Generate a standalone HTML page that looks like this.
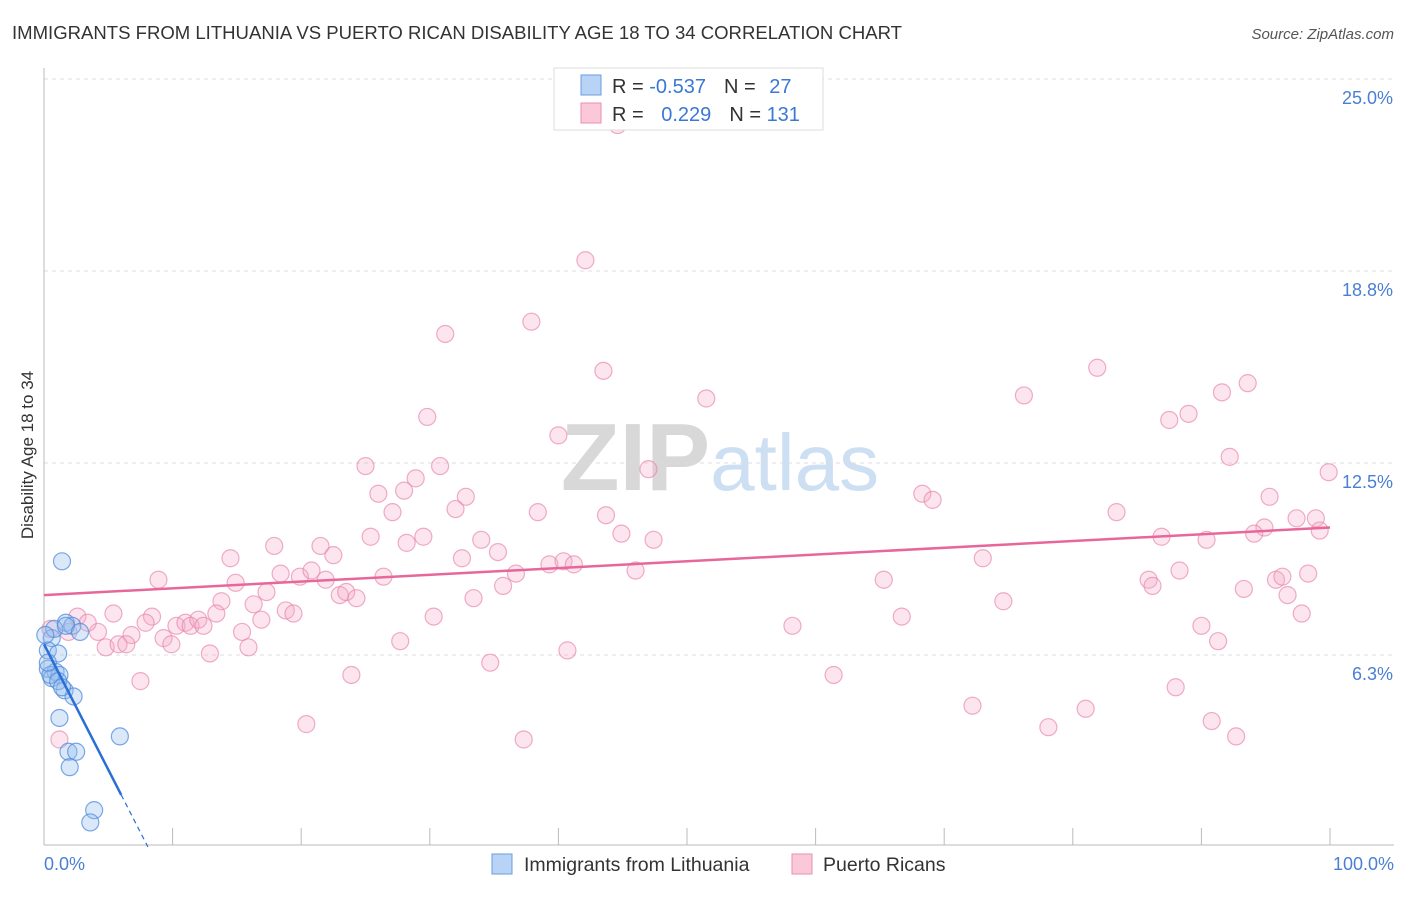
<!DOCTYPE html>
<html><head><meta charset="utf-8"><style>
body{margin:0;background:#fff;font-family:"Liberation Sans",sans-serif}
svg text{font-family:"Liberation Sans",sans-serif}
</style></head><body>
<svg id="chart" width="1406" height="892" viewBox="0 0 1406 892">
<text x="12" y="39" font-size="18.5" fill="#333" textLength="890" lengthAdjust="spacingAndGlyphs">IMMIGRANTS FROM LITHUANIA VS PUERTO RICAN DISABILITY AGE 18 TO 34 CORRELATION CHART</text>
<text x="1394" y="39" font-size="15" fill="#555" text-anchor="end" font-style="italic">Source: ZipAtlas.com</text>
<text x="720" y="490" font-size="96" text-anchor="middle" fill="#ddd" font-family="Liberation Serif"><tspan fill="#d8d8d8" font-weight="bold">ZIP</tspan><tspan fill="#cddff2" font-family="Liberation Sans" font-size="80">atlas</tspan></text>
<g id="grid"></g>
<g id="axes"></g>
<g id="pts"></g>
<g id="trends"></g>
<text transform="translate(33,455) rotate(-90)" font-size="17" fill="#333" text-anchor="middle">Disability Age 18 to 34</text>
<text x="44" y="870" font-size="18" fill="#4a7fd4">0.0%</text>
<text x="1394" y="870" font-size="18" fill="#4a7fd4" text-anchor="end">100.0%</text>
<g>
<rect x="554" y="68" width="269" height="62" fill="#fff" stroke="#ddd"/>
<rect x="581" y="75" width="20" height="20" fill="#b8d3f5" stroke="#6a9ee0"/>
<rect x="581" y="103" width="20" height="20" fill="#fbc8d8" stroke="#ea8fb0"/>
<text x="612" y="93" font-size="20" fill="#333">R = <tspan fill="#3a78d6">-0.537</tspan><tspan dx="18">N = </tspan><tspan fill="#3a78d6" dx="8">27</tspan></text>
<text x="612" y="121" font-size="20" fill="#333">R = <tspan fill="#3a78d6" dx="12">0.229</tspan><tspan dx="18">N = </tspan><tspan fill="#3a78d6">131</tspan></text>
</g>
<g>
<rect x="492" y="854" width="20" height="20" fill="#b8d3f5" stroke="#6a9ee0"/>
<text x="524" y="871" font-size="19.5" fill="#333">Immigrants from Lithuania</text>
<rect x="792" y="854" width="20" height="20" fill="#fbc8d8" stroke="#ea8fb0"/>
<text x="823" y="871" font-size="19.5" fill="#333">Puerto Ricans</text>
</g>
</svg>
<script>
const yTicks=[6.25,12.5,18.75,25];
const yTickLabels=["6.3%","12.5%","18.8%","25.0%"];
const blueX=[1.4,1.7,0.6,0.3,1.1,0.3,0.9,1.2,0.6,1.6,2.3,1.2,5.9,1.9,2.5,2.0,3.9,3.6,0.8,2.2,0.1,0.5,1.1,1.4,1.7,2.8,0.3];
const blueY=[9.3,7.3,6.8,6.4,6.3,5.8,5.7,5.6,5.5,5.1,4.9,4.2,3.6,3.1,3.1,2.6,1.2,0.8,7.1,7.2,6.9,5.6,5.4,5.2,7.2,7.0,6.0];
const pinkX=[44.6,42.1,37.9,31.2,81.9,43.5,51.5,76.2,93.6,91.6,29.8,89.0,87.5,40.0,25.0,30.8,47.0,92.2,99.9,28.9,26.0,28.0,32.8,68.3,69.1,95.3,27.1,32.0,38.4,43.7,83.4,98.9,97.4,94.9,94.1,99.2,25.4,29.5,34.0,44.9,86.9,90.4,28.2,21.5,17.9,47.4,14.5,22.5,35.3,32.5,39.3,40.4,41.2,73.0,88.3,46.0,8.9,14.9,18.4,19.9,20.8,21.9,26.4,36.7,65.3,85.9,86.2,95.8,96.3,98.3,35.7,17.3,23.0,23.5,24.3,33.4,93.3,13.8,16.3,18.8,74.6,96.7,5.4,8.4,13.4,16.9,19.4,30.3,66.7,97.8,7.9,10.3,11.0,11.4,12.0,12.4,58.2,90.0,4.2,6.8,15.4,27.7,91.3,9.3,9.9,4.8,5.8,6.4,15.9,12.9,40.7,34.7,23.9,7.5,61.4,88.0,72.2,20.4,81.0,78.1,90.8,37.3,92.7,1.2,2.6,3.4,1.9,0.5];
const pinkY=[23.5,19.1,17.1,16.7,15.6,15.5,14.6,14.7,15.1,14.8,14.0,14.1,13.9,13.4,12.4,12.4,12.3,12.7,12.2,12.0,11.5,11.6,11.4,11.5,11.3,11.4,10.9,11.0,10.9,10.8,10.9,10.7,10.7,10.4,10.2,10.3,10.1,10.1,10.0,10.2,10.1,10.0,9.9,9.8,9.8,10.0,9.4,9.5,9.6,9.4,9.2,9.3,9.2,9.4,9.0,9.0,8.7,8.6,8.9,8.8,9.0,8.7,8.8,8.9,8.7,8.7,8.5,8.7,8.8,8.9,8.5,8.3,8.2,8.3,8.1,8.1,8.4,8.0,7.9,7.7,8.0,8.2,7.6,7.5,7.6,7.4,7.6,7.5,7.5,7.6,7.3,7.2,7.3,7.2,7.4,7.2,7.2,7.2,7.0,6.9,7.0,6.7,6.7,6.8,6.6,6.5,6.6,6.6,6.5,6.3,6.4,6.0,5.6,5.4,5.6,5.2,4.6,4.0,4.5,3.9,4.1,3.5,3.6,3.5,7.5,7.3,7.0,7.1,7.4];
const blueTrend=[0,6.6,6,1.7];
const pinkTrend=[0,8.2,100,10.4];
const X0=44,X1=1330,Y0=847,YS=192/6.25;
const sx=v=>X0+(X1-X0)*v/100, sy=v=>Y0-v*YS;
const NS="http://www.w3.org/2000/svg";
function mk(tag,attrs,parent){const e=document.createElementNS(NS,tag);for(const k in attrs)e.setAttribute(k,attrs[k]);parent.appendChild(e);return e;}
const grid=document.getElementById('grid'),axes=document.getElementById('axes');
yTicks.forEach((t,i)=>{
 const l=mk('line',{x1:X0,x2:1394,y1:sy(t),y2:sy(t),stroke:'#ddd','stroke-dasharray':'4,4'},grid);
 
 
 const tx=mk('text',{x:1393,y:sy(t)+25,'font-size':18,fill:'#4a7fd4','text-anchor':'end'},axes);
 tx.textContent=yTickLabels[i];
 
 
});
const ya=mk('line',{x1:X0,x2:X0,y1:68,y2:845,stroke:'#bbb'},axes);


const xa=mk('line',{x1:X0,x2:1394,y1:845,y2:845,stroke:'#bbb'},axes);


for(let i=1;i<=10;i++){const t=mk('line',{x1:sx(i*10),x2:sx(i*10),y1:828,y2:845,stroke:'#bbb'},axes);
 
 }
const pts=document.getElementById('pts');
pinkX.forEach((x,i)=>{const c=mk('circle',{cx:sx(x),cy:sy(pinkY[i]),r:8.5,fill:'rgba(245,170,198,0.3)',stroke:'rgba(230,130,168,0.65)','stroke-width':1.2},pts);
 
 });
blueX.forEach((x,i)=>{const c=mk('circle',{cx:sx(x),cy:sy(blueY[i]),r:8.5,fill:'rgba(150,188,238,0.35)',stroke:'rgba(80,140,220,0.75)','stroke-width':1.2},pts);
 
 });
const tr=document.getElementById('trends');
const pl=mk('line',{x1:sx(pinkTrend[0]),y1:sy(pinkTrend[1]),x2:sx(pinkTrend[2]),y2:sy(pinkTrend[3]),stroke:'#e8679a','stroke-width':2.5},tr);


const bl=mk('line',{x1:sx(blueTrend[0]),y1:sy(blueTrend[1]),x2:sx(blueTrend[2]),y2:sy(blueTrend[3]),stroke:'#2a6fd6','stroke-width':2.5},tr);


const slope=(blueTrend[3]-blueTrend[1])/(blueTrend[2]-blueTrend[0]);
const xz=blueTrend[0]-blueTrend[1]/slope;
const bd=mk('line',{x1:sx(blueTrend[2]),y1:sy(blueTrend[3]),x2:sx(xz),y2:sy(0),stroke:'#2a6fd6','stroke-width':1.2,'stroke-dasharray':'5,4'},tr);


</script>
</body></html>
